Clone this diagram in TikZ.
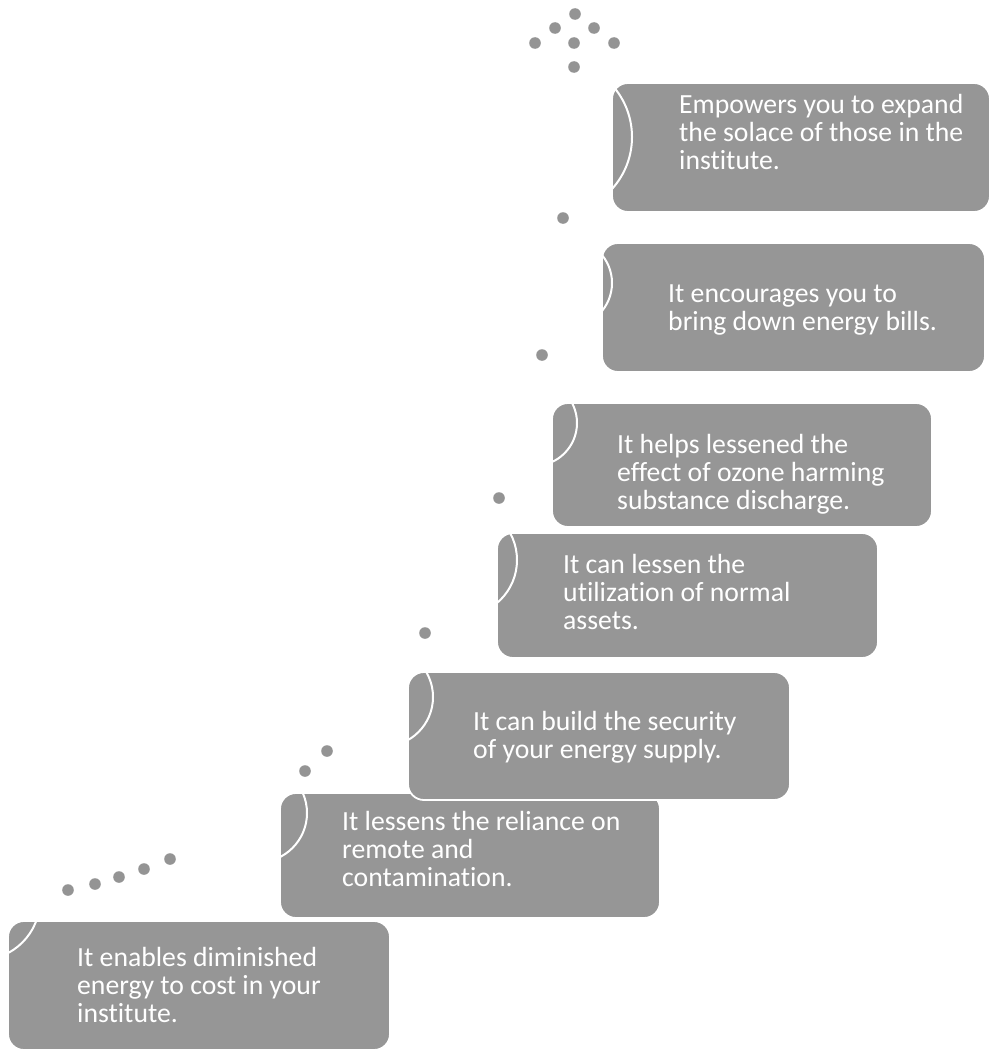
\documentclass[tikz,border=0pt]{standalone}
\usepackage{fontspec}
\setmainfont{Carlito}[RawFeature={-liga}]
\definecolor{boxgray}{RGB}{150,150,150}
\definecolor{dotgray}{RGB}{148,148,148}
\newcommand\mylines[1]{\vtop{\halign{##\hfil\cr#1\crcr}}}
\begin{document}
\begin{tikzpicture}[x=1pt,y=-1pt,
  box/.style={draw=white, line width=1.8pt, fill=boxgray, rounded corners=16pt, inner sep=0pt},
  txt/.style={text=white, inner sep=0pt, anchor=base west, font=\fontsize{27.7}{28.3}\selectfont},
  arcline/.style={draw=white, line width=2pt},
  dot/.style={fill=dotgray}]
\useasboundingbox (0,0) rectangle (997,1057);

% boxes (drawn bottom to top)
\node[box, minimum width=382pt, minimum height=129pt] (b7) at (199,985.5) {};
\node[box, minimum width=380pt, minimum height=125pt] (b6) at (470,855.5) {};
\node[box, minimum width=382pt, minimum height=128pt] (b5) at (599,736) {};
\node[box, minimum width=381pt, minimum height=125pt] (b4) at (687.5,595.5) {};
\node[box, minimum width=380pt, minimum height=124pt] (b3) at (742,465) {};
\node[box, minimum width=383pt, minimum height=129pt] (b2) at (793.5,307.5) {};
\node[box, minimum width=378pt, minimum height=129pt] (b1) at (801,147.5) {};

% white arcs at the left of each box
\begin{scope}\clip[rounded corners=16pt] (b1.south west) rectangle (b1.north east);
  \draw[arcline] (554.4,137) circle[radius=77.6pt];\end{scope}
\begin{scope}\clip[rounded corners=16pt] (b2.south west) rectangle (b2.north east);
  \draw[arcline] (567.8,283) circle[radius=44.2pt];\end{scope}
\begin{scope}\clip[rounded corners=16pt] (b3.south west) rectangle (b3.north east);
  \draw[arcline] (534.1,423) circle[radius=42.9pt];\end{scope}
\begin{scope}\clip[rounded corners=16pt] (b4.south west) rectangle (b4.north east);
  \draw[arcline] (460.8,560) circle[radius=56.2pt];\end{scope}
\begin{scope}\clip[rounded corners=16pt] (b5.south west) rectangle (b5.north east);
  \draw[arcline] (383.5,697) circle[radius=49.5pt];\end{scope}
\begin{scope}\clip[rounded corners=16pt] (b6.south west) rectangle (b6.north east);
  \draw[arcline] (257.6,813) circle[radius=49.4pt];\end{scope}
\begin{scope}\clip[rounded corners=16pt] (b7.south west) rectangle (b7.north east);
  \draw[arcline] (-20,900) circle[radius=60pt];\end{scope}

% texts
\node[txt] (t1) at (679,113) {\mylines{Empowers you to expand\cr the solace of those in the\cr institute.}};
\node[txt] (t2) at (668,302) {\mylines{It encourages you to\cr bring down energy bills.}};
\node[txt] (t3) at (617,453) {\mylines{It helps lessened the\cr effect of ozone harming\cr substance discharge.}};
\node[txt] (t4) at (563,573) {\mylines{It can lessen the\cr utilization of normal\cr assets.}};
\node[txt] (t5) at (473,730) {\mylines{It can build the security\cr of your energy supply.}};
\node[txt] (t6) at (342,830) {\mylines{It lessens the reliance on\cr remote and\cr contamination.}};
\node[txt] (t7) at (77,966) {\mylines{It enables diminished\cr energy to cost in your\cr institute.}};

% dots
\foreach \p in {(575,14),(555,28),(594,28),(535,43),(574,43),(614,43),(574,67),
  (563,218),(542,355),(499,498),(425,633),(327,751),(305,771),
  (68,890),(95,884),(119,877),(144,869),(170,859)}
  \fill[dot] \p circle[radius=5.8pt];
\end{tikzpicture}
\end{document}
